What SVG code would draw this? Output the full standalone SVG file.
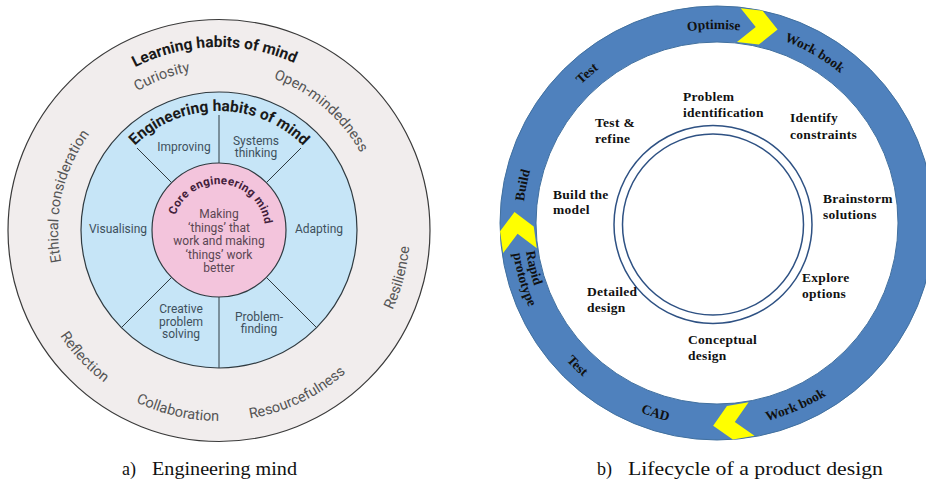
<svg xmlns="http://www.w3.org/2000/svg" width="926" height="483" viewBox="0 0 926 483">
<style>
.lbl{font-family:Roboto,"Liberation Sans",sans-serif;font-size:14.5px;fill:#555;text-anchor:middle}
.ttl{font-family:Roboto,"Liberation Sans",sans-serif;font-weight:bold;font-size:15.5px;fill:#1a1a1a;text-anchor:middle}
.eng{font-family:Roboto,"Liberation Sans",sans-serif;font-size:12px;fill:#3e505c;text-anchor:middle}
.core{font-family:Roboto,"Liberation Sans",sans-serif;font-weight:bold;font-size:11.5px;letter-spacing:0.3px;fill:#42203a;text-anchor:middle}
.pink{font-family:Roboto,"Liberation Sans",sans-serif;font-size:12px;fill:#5a4652;text-anchor:middle}
.div{stroke:#2f3a40;stroke-width:1;fill:none}
.stp{font-family:"Liberation Serif","Times New Roman",serif;font-weight:bold;font-size:13.5px;fill:#111;letter-spacing:0.3px}
.rng{font-family:"Liberation Serif","Times New Roman",serif;font-weight:bold;font-size:13.5px;fill:#111;text-anchor:middle}
.rngs{font-family:"Liberation Serif","Times New Roman",serif;font-weight:bold;font-size:13.5px;fill:#111;text-anchor:start}
.cap{font-family:"Liberation Serif","Times New Roman",serif;font-size:18px;fill:#111}
.chev{fill:#ffff00}
</style>
<defs>
<path id="cw183" d="M219,413 A183,183 0 1,1 219,47 A183,183 0 1,1 219,413"/>
<path id="cw161" d="M219,391 A161,161 0 1,1 219,69 A161,161 0 1,1 219,391"/>
<path id="cw119" d="M219,349 A119,119 0 1,1 219,111 A119,119 0 1,1 219,349"/>
<path id="cwp46" d="M219,276 A46,46 0 1,1 219,184 A46,46 0 1,1 219,276"/>
<path id="ccw191" d="M219,39 A191,191 0 1,0 219,421 A191,191 0 1,0 219,39"/>
<path id="rcw194" d="M717,417 A194,194 0 1,1 717,29 A194,194 0 1,1 717,417"/>
<path id="rccw204" d="M717,19 A204,204 0 1,0 717,427 A204,204 0 1,0 717,19"/>
<path id="rccw193" d="M717,30 A193,193 0 1,0 717,416 A193,193 0 1,0 717,30"/>
<path id="rccw206" d="M717,17 A206,206 0 1,0 717,429 A206,206 0 1,0 717,17"/>
<path id="chevron" class="chev" d="M0,-216 L22,-216 L39,-199 L22,-182 L0,-182 L17,-199 Z"/>
</defs>
<rect width="926" height="483" fill="#ffffff"/>

<!-- Left diagram: Engineering mind -->
<g id="learning-habits">
<circle cx="219" cy="230.5" r="211" fill="#f1eded" stroke="#3a3a3a" stroke-width="1.2"/>
<text class="ttl"><textPath href="#cw183" startOffset="570.1">Learning habits of mind</textPath></text>
<text class="lbl"><textPath href="#cw161" startOffset="448.2">Curiosity</textPath></text>
<text class="lbl"><textPath href="#cw161" startOffset="619.6">Open-mindedness</textPath></text>
<text class="lbl"><textPath href="#cw161" startOffset="288">Ethical consideration</textPath></text>
<text class="lbl"><textPath href="#ccw191" startOffset="850.1">Resilience</textPath></text>
<text class="lbl"><textPath href="#ccw191" startOffset="684.7">Resourcefulness</textPath></text>
<text class="lbl"><textPath href="#ccw191" startOffset="556.7">Collaboration</textPath></text>
<text class="lbl"><textPath href="#ccw191" startOffset="444.4">Reflection</textPath></text>
</g>
<g id="engineering-habits">
<circle cx="219" cy="230" r="138" fill="#c6e5f7" stroke="#2f3a40" stroke-width="1.2"/>
<text class="ttl"><textPath href="#cw119" startOffset="373.8">Engineering habits of mind</textPath></text>
</g>
<g id="dividers">
<line class="div" x1="219" y1="115" x2="219" y2="163"/>
<line class="div" x1="137" y1="148" x2="171.6" y2="182.6"/>
<line class="div" x1="301" y1="148" x2="266.4" y2="182.6"/>
<line class="div" x1="171.6" y1="277.4" x2="121.4" y2="327.6"/>
<line class="div" x1="266.4" y1="277.4" x2="316.6" y2="327.6"/>
<line class="div" x1="219" y1="297" x2="219" y2="368"/>
</g>
<g id="improving"><text class="eng" x="184" y="151">Improving</text></g>
<g id="systems-thinking"><text class="eng" x="256" y="145">Systems</text><text class="eng" x="256" y="157">thinking</text></g>
<g id="visualising"><text class="eng" x="118" y="233">Visualising</text></g>
<g id="adapting"><text class="eng" x="319" y="233">Adapting</text></g>
<g id="creative-problem-solving"><text class="eng" x="181" y="313">Creative</text><text class="eng" x="181" y="325.5">problem</text><text class="eng" x="181" y="338">solving</text></g>
<g id="problem-finding"><text class="eng" x="259" y="321">Problem-</text><text class="eng" x="259" y="333">finding</text></g>
<g id="core-mind">
<circle cx="219" cy="230" r="67" fill="#f3c4dc" stroke="#2f3a40" stroke-width="1.2"/>
<text class="core"><textPath href="#cwp46" startOffset="148.9">Core engineering mind</textPath></text>
<text class="pink" x="219" y="218">Making</text>
<text class="pink" x="219" y="231.6">‘things’ that</text>
<text class="pink" x="219" y="245.2">work and making</text>
<text class="pink" x="219" y="258.8">‘things’ work</text>
<text class="pink" x="219" y="272.4">better</text>
</g>

<!-- Right diagram: Lifecycle -->
<g id="outer-ring">
<path d="M717,6 A217,217 0 1,0 717,440 A217,217 0 1,0 717,6 Z M717,42 A181,181 0 1,0 717,404 A181,181 0 1,0 717,42 Z" fill="#4f81bd" fill-rule="evenodd" stroke="#41709f" stroke-width="1"/>
<text class="rng"><textPath href="#rcw194" startOffset="606.1">Optimise</textPath></text>
<text class="rng"><textPath href="#rcw194" startOffset="710.4">Work book</textPath></text>
<text class="rng"><textPath href="#rcw194" startOffset="470.6">Test</textPath></text>
<text class="rng"><textPath href="#rcw194" startOffset="342">Build</textPath></text>
<text class="rngs"><textPath href="#rccw193" startOffset="331.8">Rapid</textPath></text>
<text class="rngs"><textPath href="#rccw206" startOffset="354.1">prototype</textPath></text>
<text class="rng"><textPath href="#rccw204" startOffset="482.8">Test</textPath></text>
<text class="rng"><textPath href="#rccw204" startOffset="576.8">CAD</textPath></text>
<text class="rng"><textPath href="#rccw204" startOffset="723.5">Work book</textPath></text>
</g>
<g id="connectors">
<use href="#chevron" transform="translate(717,223) rotate(6.3)"/>
<use href="#chevron" transform="translate(717,223) rotate(262)"/>
<use href="#chevron" transform="translate(717,223) rotate(170)"/>
</g>
<g id="inner-cycle">
<circle cx="713" cy="224.5" r="99" fill="none" stroke="#2e5183" stroke-width="1.5"/>
<circle cx="713" cy="224.5" r="90.5" fill="none" stroke="#2e5183" stroke-width="1.5"/>
</g>
<g id="problem-identification"><text class="stp" x="683" y="101">Problem</text><text class="stp" x="683" y="117">identification</text></g>
<g id="identify-constraints"><text class="stp" x="790" y="122">Identify</text><text class="stp" x="790" y="139">constraints</text></g>
<g id="brainstorm-solutions"><text class="stp" x="823" y="203">Brainstorm</text><text class="stp" x="823" y="219">solutions</text></g>
<g id="explore-options"><text class="stp" x="802" y="282">Explore</text><text class="stp" x="802" y="298">options</text></g>
<g id="conceptual-design"><text class="stp" x="688" y="344">Conceptual</text><text class="stp" x="688" y="360">design</text></g>
<g id="detailed-design"><text class="stp" x="587" y="296">Detailed</text><text class="stp" x="587" y="312">design</text></g>
<g id="build-model"><text class="stp" x="553" y="199">Build the</text><text class="stp" x="553" y="214">model</text></g>
<g id="test-refine"><text class="stp" x="595" y="127">Test &amp;</text><text class="stp" x="595" y="143">refine</text></g>

<g id="captions">
<text class="cap" x="122" y="475">a)</text>
<text class="cap" x="152" y="475" textLength="145" lengthAdjust="spacingAndGlyphs">Engineering mind</text>
<text class="cap" x="597" y="475">b)</text>
<text class="cap" x="628" y="475" textLength="255" lengthAdjust="spacingAndGlyphs">Lifecycle of a product design</text>
</g>
</svg>
